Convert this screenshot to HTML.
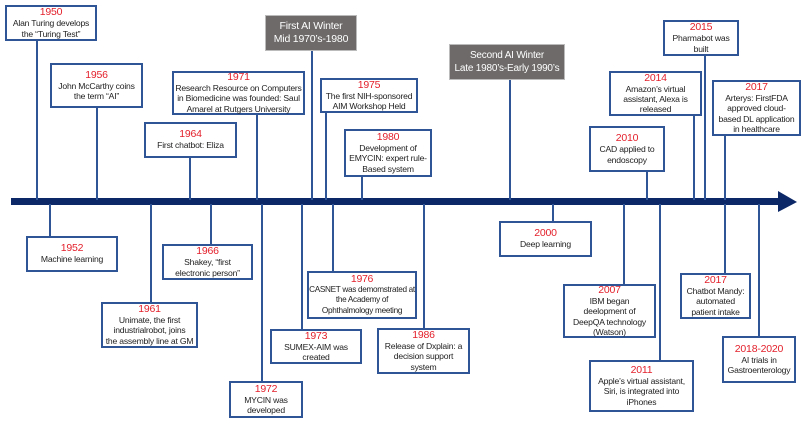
<!DOCTYPE html>
<html><head><meta charset="utf-8"><style>
body{margin:0;width:802px;height:424px;background:#fff;position:relative;overflow:hidden;font-family:"Liberation Sans",sans-serif}
.b{position:absolute;box-sizing:border-box;border:2px solid #2f5597;background:#fff;text-align:center;font-size:8.6px;line-height:10.2px;color:#222;display:flex;flex-direction:column;justify-content:center;align-items:center;letter-spacing:-0.2px;white-space:nowrap}
.b i{font-style:normal;color:#e3202b;font-size:10.5px;line-height:11px;display:block}
.g{position:absolute;background:#6d6a69;color:#fff;text-align:center;font-size:10.5px;line-height:13px;display:flex;flex-direction:column;justify-content:center;align-items:center;border:1px solid #bbb;box-sizing:border-box;white-space:nowrap;letter-spacing:-0.2px}
.l{position:absolute;width:2px;background:#2f5597}
</style></head><body>
<div style="position:absolute;left:11px;top:198px;width:770px;height:7px;background:#0c2867"></div>
<svg style="position:absolute;left:778px;top:191px" width="22" height="22"><polygon points="0,0 19,11 0,21" fill="#0c2867"/></svg>

<div class="l" style="left:36px;top:40px;height:160px"></div>
<div class="l" style="left:96px;top:106px;height:94px"></div>
<div class="l" style="left:189px;top:156px;height:44px"></div>
<div class="l" style="left:256px;top:113px;height:87px"></div>
<div class="l" style="left:311px;top:50px;height:150px"></div>
<div class="l" style="left:325px;top:112px;height:88px"></div>
<div class="l" style="left:361px;top:175px;height:25px"></div>
<div class="l" style="left:509px;top:79px;height:121px"></div>
<div class="l" style="left:646px;top:170px;height:30px"></div>
<div class="l" style="left:693px;top:114px;height:86px"></div>
<div class="l" style="left:704px;top:55px;height:145px"></div>
<div class="l" style="left:724px;top:134px;height:66px"></div>

<div class="l" style="left:49px;top:204px;height:33px"></div>
<div class="l" style="left:150px;top:204px;height:99px"></div>
<div class="l" style="left:210px;top:204px;height:41px"></div>
<div class="l" style="left:261px;top:204px;height:178px"></div>
<div class="l" style="left:301px;top:204px;height:126px"></div>
<div class="l" style="left:332px;top:204px;height:68px"></div>
<div class="l" style="left:423px;top:204px;height:125px"></div>
<div class="l" style="left:552px;top:204px;height:18px"></div>
<div class="l" style="left:623px;top:204px;height:81px"></div>
<div class="l" style="left:659px;top:204px;height:157px"></div>
<div class="l" style="left:724px;top:204px;height:70px"></div>
<div class="l" style="left:758px;top:204px;height:133px"></div>

<div class="b" style="left:5px;top:5px;width:92px;height:36px"><i>1950</i>Alan Turing develops<br>the “Turing Test”</div>
<div class="b" style="left:50px;top:63px;width:93px;height:45px"><i>1956</i>John McCarthy coins<br>the term “AI”</div>
<div class="b" style="left:144px;top:122px;width:93px;height:36px"><i>1964</i>First chatbot: Eliza</div>
<div class="b" style="left:172px;top:71px;width:133px;height:44px"><i>1971</i>Research Resource on Computers<br>in Biomedicine was founded: Saul<br>Amarel at Rutgers University</div>
<div class="g" style="left:265px;top:15px;width:92px;height:36px">First AI Winter<br>Mid 1970’s-1980</div>
<div class="b" style="left:320px;top:78px;width:98px;height:35px"><i>1975</i>The first NIH-sponsored<br>AIM Workshop Held</div>
<div class="b" style="left:344px;top:129px;width:88px;height:48px"><i>1980</i>Development of<br>EMYCIN: expert rule-<br>Based system</div>
<div class="g" style="left:449px;top:44px;width:116px;height:36px;font-size:10px">Second AI Winter<br>Late 1980’s-Early 1990’s</div>
<div class="b" style="left:663px;top:20px;width:76px;height:36px"><i>2015</i>Pharmabot was<br>built</div>
<div class="b" style="left:609px;top:71px;width:93px;height:45px"><i>2014</i>Amazon’s virtual<br>assistant, Alexa is<br>released</div>
<div class="b" style="left:712px;top:80px;width:89px;height:56px"><i>2017</i>Arterys: FirstFDA<br>approved cloud-<br>based DL application<br>in healthcare</div>
<div class="b" style="left:589px;top:126px;width:76px;height:46px"><i>2010</i>CAD applied to<br>endoscopy</div>

<div class="b" style="left:26px;top:236px;width:92px;height:36px"><i>1952</i>Machine learning</div>
<div class="b" style="left:101px;top:302px;width:97px;height:46px"><i>1961</i>Unimate, the first<br>industrialrobot, joins<br>the assembly line at GM</div>
<div class="b" style="left:162px;top:244px;width:91px;height:36px"><i>1966</i>Shakey, “first<br>electronic person”</div>
<div class="b" style="left:229px;top:381px;width:74px;height:37px"><i>1972</i>MYCIN was<br>developed</div>
<div class="b" style="left:270px;top:329px;width:92px;height:35px"><i>1973</i>SUMEX-AIM was<br>created</div>
<div class="b" style="left:307px;top:271px;width:110px;height:48px;font-size:8.2px;letter-spacing:-0.3px"><i>1976</i>CASNET was demomstrated at<br>the Academy of<br>Ophthalmology meeting</div>
<div class="b" style="left:377px;top:328px;width:93px;height:46px"><i>1986</i>Release of Dxplain: a<br>decision support<br>system</div>
<div class="b" style="left:499px;top:221px;width:93px;height:36px"><i>2000</i>Deep learning</div>
<div class="b" style="left:563px;top:284px;width:93px;height:54px"><i>2007</i>IBM began<br>deelopment of<br>DeepQA technology<br>(Watson)</div>
<div class="b" style="left:589px;top:360px;width:105px;height:52px"><i>2011</i>Apple’s virtual assistant,<br>Siri, is integrated into<br>iPhones</div>
<div class="b" style="left:680px;top:273px;width:71px;height:46px"><i>2017</i>Chatbot Mandy:<br>automated<br>patient intake</div>
<div class="b" style="left:722px;top:336px;width:74px;height:47px"><i>2018-2020</i>AI trials in<br>Gastroenterology</div>
</body></html>
